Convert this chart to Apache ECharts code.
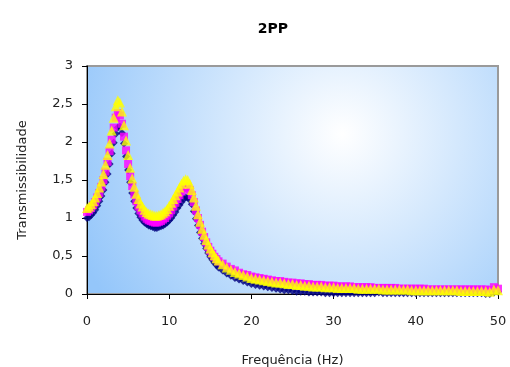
<!DOCTYPE html>
<html><head><meta charset="utf-8">
<script src="https://cdn.jsdelivr.net/npm/echarts@6/dist/echarts.min.js"></script>
<style>html,body{margin:0;padding:0;background:#fff}#c{width:510px;height:367px}</style>
</head><body><div id="c"></div>
<script>
const title = "2PP";
const xName = "Frequência (Hz)";
const yName = "Transmissibilidade";
const freq = [0,0.25,0.5,0.75,1,1.25,1.5,1.75,2,2.25,2.5,2.75,3,3.25,3.5,3.75,4,4.25,4.5,4.75,5,5.25,5.5,5.75,6,6.25,6.5,6.75,7,7.25,7.5,7.75,8,8.25,8.5,8.75,9,9.25,9.5,9.75,10,10.25,10.5,10.75,11,11.25,11.5,11.75,12,12.25,12.5,12.75,13,13.25,13.5,13.75,14,14.25,14.5,14.75,15,15.25,15.5,15.75,16,
16.5,17,17.5,18,18.5,19,19.5,20,20.5,21,21.5,22,22.5,23,23.5,24,24.5,25,25.5,26,26.5,27,27.5,28,28.5,29,29.5,30,30.5,31,31.5,32,32.5,33,33.5,34,34.5,35,35.5,36,36.5,37,37.5,38,38.5,39,39.5,40,40.5,41,41.5,42,42.5,43,43.5,44,44.5,45,45.5,46,46.5,47,47.5,48,48.5,49,49.5,50];
const navy = [1.00,1.01,1.04,1.07,1.11,1.16,1.22,1.29,1.37,1.47,1.58,1.71,1.85,1.99,2.11,2.19,2.20,2.12,1.98,1.81,1.63,1.47,1.33,1.22,1.13,1.06,1.01,0.97,0.94,0.92,0.90,0.89,0.88,0.87,0.87,0.88,0.89,0.90,0.92,0.94,0.97,1.00,1.04,1.08,1.13,1.17,1.21,1.25,1.27,1.27,1.24,1.18,1.09,0.99,0.90,0.81,0.73,0.66,0.60,0.54,0.49,0.45,0.41,0.38,0.35,
0.31,0.27,0.24,0.21,0.19,0.17,0.15,0.13,0.12,0.11,0.10,0.09,0.08,0.07,0.06,0.05,0.05,0.04,0.03,0.03,0.03,0.02,0.02,0.02,0.02,0.01,0.01,0.01,0.01,0.01,0.01,0.01,0.01,0.01,0.01,0.01,0.01,0.01,0.02,0.01,0.01,0.01,0.01,0.01,0.01,0.01,0.01,0.01,0.01,0.01,0.01,0.01,0.01,0.01,0.01,0.01,0.01,0.01,0.01,0.01,0.01,0.01,0.01,0.01,0.00,0.00,0.02,0.03];
const magenta = [1.08,1.10,1.13,1.17,1.21,1.27,1.33,1.41,1.50,1.61,1.74,1.88,2.03,2.19,2.32,2.38,2.35,2.24,2.07,1.89,1.71,1.55,1.42,1.31,1.22,1.15,1.10,1.06,1.02,0.99,0.97,0.96,0.95,0.94,0.94,0.95,0.96,0.98,1.00,1.03,1.06,1.10,1.15,1.20,1.25,1.30,1.35,1.39,1.41,1.41,1.37,1.30,1.21,1.10,1.00,0.91,0.82,0.75,0.68,0.62,0.57,0.53,0.49,0.46,0.43,
0.40,0.36,0.33,0.31,0.28,0.26,0.25,0.23,0.22,0.21,0.20,0.19,0.18,0.17,0.17,0.16,0.15,0.15,0.14,0.14,0.13,0.13,0.12,0.12,0.12,0.11,0.11,0.11,0.10,0.10,0.10,0.10,0.09,0.09,0.09,0.09,0.09,0.08,0.08,0.08,0.08,0.08,0.08,0.07,0.07,0.07,0.07,0.07,0.07,0.07,0.06,0.06,0.06,0.06,0.06,0.06,0.06,0.06,0.06,0.06,0.06,0.06,0.06,0.06,0.06,0.05,0.09,0.07];
const yellow = [1.13,1.15,1.18,1.22,1.27,1.33,1.40,1.48,1.58,1.70,1.83,1.98,2.15,2.32,2.47,2.55,2.52,2.40,2.22,2.02,1.83,1.66,1.52,1.41,1.32,1.25,1.19,1.15,1.11,1.08,1.06,1.05,1.04,1.03,1.03,1.04,1.05,1.07,1.09,1.12,1.16,1.20,1.25,1.30,1.35,1.40,1.45,1.49,1.51,1.50,1.45,1.37,1.27,1.16,1.05,0.95,0.86,0.78,0.71,0.65,0.60,0.55,0.51,0.47,0.44,
0.39,0.35,0.32,0.29,0.27,0.25,0.23,0.21,0.20,0.19,0.18,0.17,0.16,0.15,0.15,0.14,0.13,0.13,0.12,0.12,0.11,0.11,0.10,0.10,0.10,0.09,0.09,0.09,0.08,0.08,0.08,0.08,0.08,0.07,0.07,0.07,0.07,0.07,0.07,0.06,0.06,0.06,0.06,0.06,0.06,0.06,0.05,0.05,0.05,0.05,0.05,0.05,0.05,0.05,0.05,0.05,0.05,0.05,0.04,0.04,0.04,0.04,0.04,0.04,0.04,0.03,0.06,0.05];
const xTicks = [0,10,20,30,40,50];
const yTicks = [0,0.5,1,1.5,2,2.5,3];

function pairs(v){ return freq.map((f,i)=>[f,v[i]]); }
const font = "'DejaVu Sans', sans-serif";
const chart = echarts.init(document.getElementById('c'), null, {renderer:'canvas'});
chart.setOption({
  animation:false,
  title:{text:title,left:268,top:17,textAlign:'center',textStyle:{fontFamily:font,fontSize:14,fontWeight:'bold',color:'#000'}},
  grid:{left:87,right:12,top:66,bottom:73,show:true,borderColor:'#9a9a9a',borderWidth:2,outerBoundsMode:'none',containLabel:false,
    backgroundColor:{type:'radial',x:0.62,y:0.3,r:1.25,colorStops:[{offset:0,color:'#ffffff'},{offset:1,color:'#94c6fa'}]}},
  xAxis:{type:'value',min:0,max:50,interval:10,name:xName,nameLocation:'middle',nameGap:60,
    nameTextStyle:{fontFamily:font,fontSize:13,color:'#222'},
    axisLine:{show:true,lineStyle:{color:'#000',width:1}},
    axisTick:{show:true,length:5,lineStyle:{color:'#000'}},
    axisLabel:{fontFamily:font,fontSize:13,color:'#222',margin:21,formatter:v=>xTicks.includes(v)?String(v):''},
    splitLine:{show:false}},
  yAxis:{type:'value',min:0,max:3,interval:0.5,name:yName,nameLocation:'middle',nameGap:58,
    nameTextStyle:{fontFamily:font,fontSize:13,color:'#222'},
    axisLine:{show:true,lineStyle:{color:'#000',width:1}},
    axisTick:{show:true,length:5,lineStyle:{color:'#000'}},
    axisLabel:{fontFamily:font,fontSize:13,color:'#222',margin:14,formatter:v=>yTicks.includes(v)?String(v).replace('.',','):''},
    splitLine:{show:false}},
  series:[
    {type:'scatter',data:pairs(navy),symbol:'diamond',symbolSize:8,itemStyle:{color:'#000080'},z:2},
    {type:'scatter',data:pairs(magenta),symbol:'rect',symbolSize:8,itemStyle:{color:'#ff00ff'},z:3},
    {type:'scatter',data:pairs(yellow),symbol:'triangle',symbolSize:10,itemStyle:{color:'#ffff00'},z:4}
  ]
});
</script></body></html>
